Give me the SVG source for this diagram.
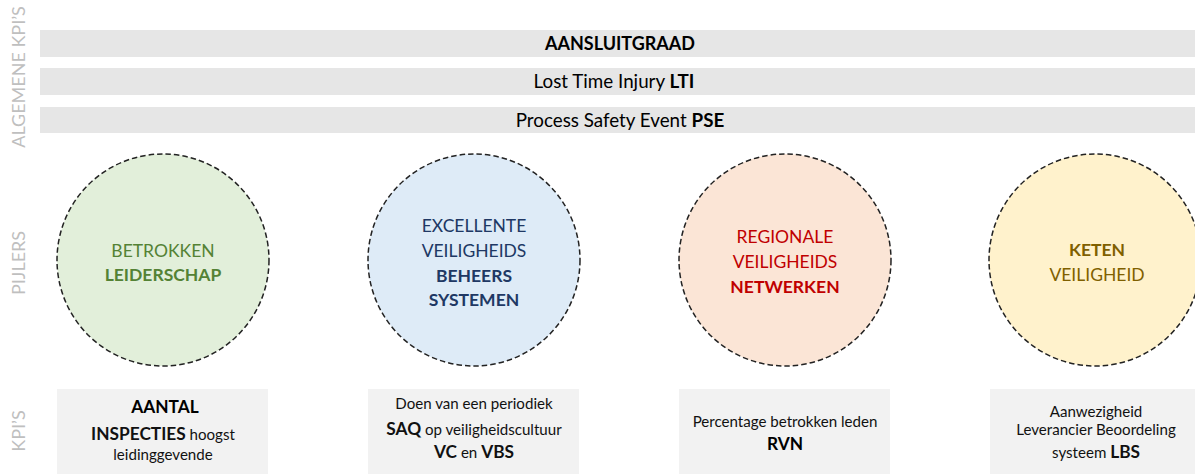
<svg xmlns="http://www.w3.org/2000/svg" width="1195" height="474" viewBox="0 0 1195 474">
<style>
text{font-family:Lato,"Open Sans","Liberation Sans",sans-serif;text-anchor:middle}
.side{fill:#bfbfbf;font-size:18px}
.bar{fill:#e6e6e6}
.bt{font-size:18.8px;fill:#000}
.b{font-weight:bold}
.bb{font-size:18px}
.circ{stroke:#222;stroke-width:1.5;stroke-dasharray:5.5 3}
.ct{font-size:17.5px}
.box{fill:#f2f2f2}
.kt{font-size:15.1px;fill:#111}
.kb{font-size:17.3px;font-weight:bold}
</style>
<rect width="1195" height="474" fill="#fff"/>
<g id="labels">
<text class="side" transform="translate(25,77) rotate(-90)">ALGEMENE KPI’S</text>
<text class="side" transform="translate(25,263) rotate(-90)">PIJLERS</text>
<text class="side" transform="translate(25,431) rotate(-90)">KPI’S</text>
</g>
<g id="bar-aansluitgraad">
<rect class="bar" x="40" y="30" width="1155" height="27"/>
<text class="bt bb b" x="620" y="50">AANSLUITGRAAD</text>
</g>
<g id="bar-lti">
<rect class="bar" x="40" y="68" width="1155" height="27"/>
<text class="bt" x="614" y="88">Lost Time Injury <tspan class="b">LTI</tspan></text>
</g>
<g id="bar-pse">
<rect class="bar" x="40" y="107" width="1155" height="26"/>
<text class="bt" x="620" y="127">Process Safety Event <tspan class="b">PSE</tspan></text>
</g>
<g id="pijler-leiderschap">
<circle class="circ" cx="163" cy="260" r="106" fill="#e2efda"/>
<text class="ct" fill="#548235" x="163" y="257">BETROKKEN</text>
<text class="ct b" fill="#548235" x="163" y="281">LEIDERSCHAP</text>
</g>
<g id="pijler-systemen">
<circle class="circ" cx="474" cy="260" r="106" fill="#deebf7"/>
<text class="ct" fill="#203864" x="474" y="232">EXCELLENTE</text>
<text class="ct" fill="#203864" x="474" y="257">VEILIGHEIDS</text>
<text class="ct b" fill="#203864" x="474" y="282">BEHEERS</text>
<text class="ct b" fill="#203864" x="474" y="306">SYSTEMEN</text>
</g>
<g id="pijler-netwerken">
<circle class="circ" cx="785" cy="260" r="106" fill="#fbe5d6"/>
<text class="ct" fill="#c00000" x="785" y="243">REGIONALE</text>
<text class="ct" fill="#c00000" x="785" y="268">VEILIGHEIDS</text>
<text class="ct b" fill="#c00000" x="785" y="293">NETWERKEN</text>
</g>
<g id="pijler-keten">
<circle class="circ" cx="1095" cy="260" r="106" fill="#fff2cc"/>
<text class="ct b" fill="#7f6000" x="1097" y="256">KETEN</text>
<text class="ct" fill="#7f6000" x="1097" y="281">VEILIGHEID</text>
</g>
<g id="kpi-inspecties">
<rect class="box" x="57" y="389" width="211" height="85"/>
<text class="kb" x="165" y="413">AANTAL</text>
<text class="kt" x="163" y="440"><tspan class="kb">INSPECTIES</tspan> hoogst</text>
<text class="kt" x="163" y="460">leidinggevende</text>
</g>
<g id="kpi-saq">
<rect class="box" x="368" y="389" width="211" height="85"/>
<text class="kt" x="474" y="409">Doen van een periodiek</text>
<text class="kt" x="474" y="435"><tspan class="kb">SAQ</tspan> op veiligheidscultuur</text>
<text class="kt" x="474" y="458"><tspan class="kb">VC</tspan> en <tspan class="kb">VBS</tspan></text>
</g>
<g id="kpi-rvn">
<rect class="box" x="679" y="389" width="211" height="85"/>
<text class="kt" x="785" y="427">Percentage betrokken leden</text>
<text class="kb" x="785" y="450">RVN</text>
</g>
<g id="kpi-lbs">
<rect class="box" x="990" y="389" width="211" height="85"/>
<text class="kt" x="1096" y="417">Aanwezigheid</text>
<text class="kt" x="1096" y="435">Leverancier Beoordeling</text>
<text class="kt" x="1096" y="458">systeem <tspan class="kb">LBS</tspan></text>
</g>
<g id="connectors"></g>
</svg>
